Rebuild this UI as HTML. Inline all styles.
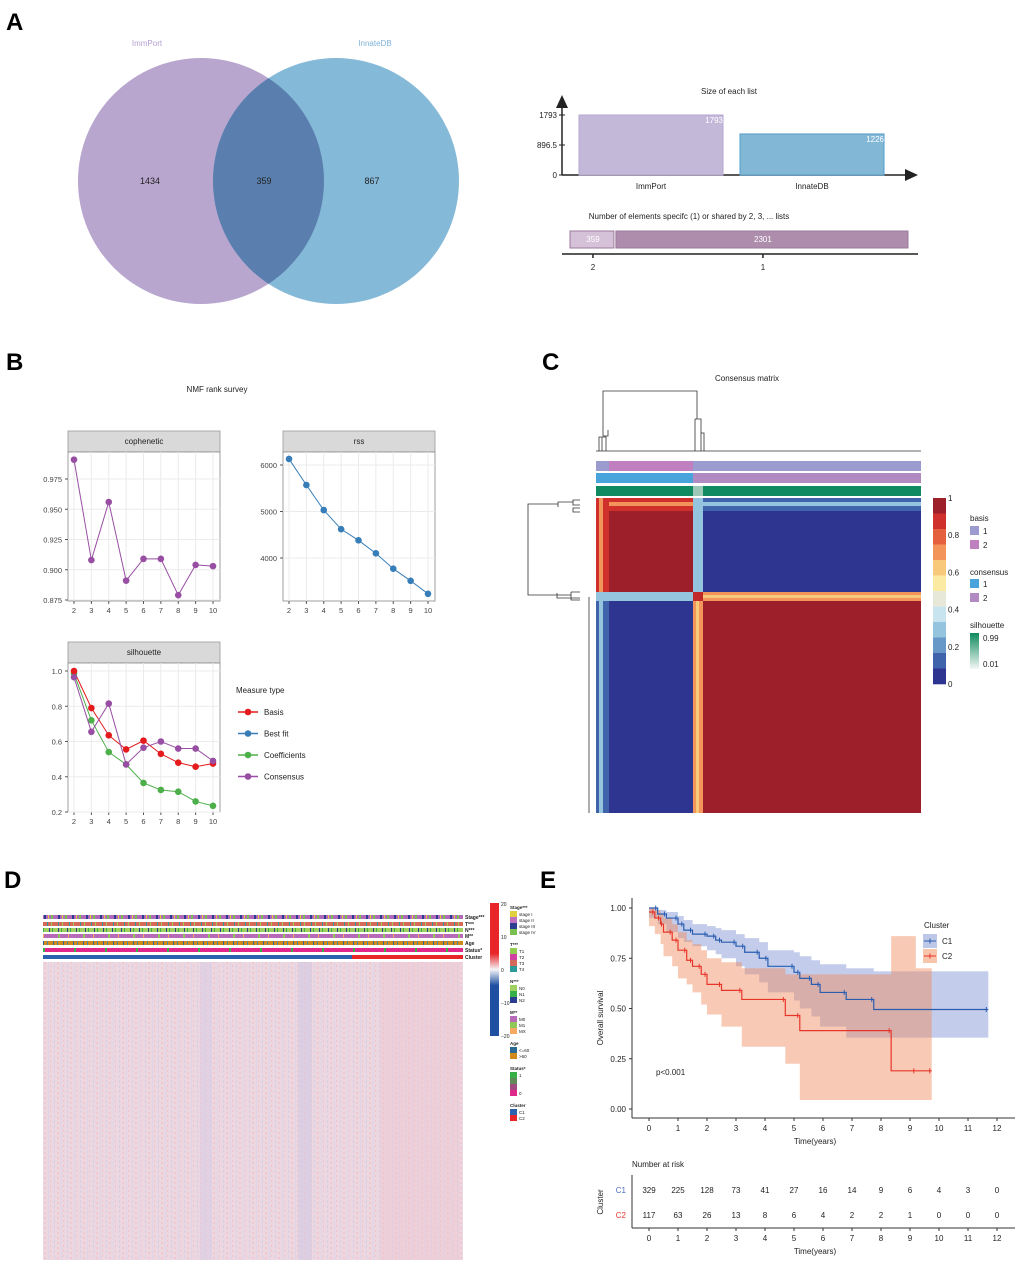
<!DOCTYPE html>
<html><head><meta charset="utf-8"><style>
body{margin:0;background:#fff}
svg{display:block;font-family:"Liberation Sans",Arial,sans-serif}
</style></head><body>
<svg id="fig" width="1020" height="1265" viewBox="0 0 1020 1265" xmlns="http://www.w3.org/2000/svg">
<defs>
<linearGradient id="hmcol" x1="0" y1="0" x2="0" y2="1"><stop offset="0" stop-color="#e8262a"/><stop offset="0.38" stop-color="#e8262a"/><stop offset="0.5" stop-color="#f4f4f8"/><stop offset="0.62" stop-color="#1e4fa0"/><stop offset="1" stop-color="#1e4fa0"/></linearGradient>
<linearGradient id="silg" x1="0" y1="0" x2="0" y2="1"><stop offset="0" stop-color="#0d8a5c"/><stop offset="1" stop-color="#f4f8f6"/></linearGradient>
<pattern id="hmtex" width="13" height="5" patternUnits="userSpaceOnUse"><rect width="13" height="5" fill="#ecd6e0"/><rect x="2" y="0" width="1" height="3" fill="#d6d0e6"/><rect x="5" y="2" width="2" height="2" fill="#f0c8d0"/><rect x="9" y="1" width="1" height="4" fill="#dcd4e8"/><rect x="11" y="0" width="1" height="2" fill="#f0c4cc"/></pattern>
<pattern id="anntex" width="14" height="5" patternUnits="userSpaceOnUse"><rect width="14" height="5" fill="#b06ab8"/><rect x="2" width="2" height="5" fill="#2c3c90"/><rect x="6" width="1" height="5" fill="#e0d040"/><rect x="9" width="2" height="5" fill="#78c050"/></pattern>
<pattern id="anntexT" width="11" height="5" patternUnits="userSpaceOnUse"><rect width="11" height="5" fill="#d66a5a"/><rect x="3" width="1" height="5" fill="#2a9a9a"/><rect x="7" width="1" height="5" fill="#9ccc58"/></pattern>
<pattern id="anntexN" width="9" height="5" patternUnits="userSpaceOnUse"><rect width="9" height="5" fill="#a0d060"/><rect x="4" width="1" height="5" fill="#2c3c90"/><rect x="7" width="1" height="5" fill="#38b048"/></pattern>
<pattern id="anntexM" width="25" height="5" patternUnits="userSpaceOnUse"><rect width="25" height="5" fill="#b66ab8"/><rect x="8" width="2" height="5" fill="#90c858"/><rect x="18" width="1" height="5" fill="#f4a860"/></pattern>
<pattern id="anntexA" width="10" height="5" patternUnits="userSpaceOnUse"><rect width="10" height="5" fill="#d08a1c"/><rect x="3" width="1" height="5" fill="#2a6a94"/><rect x="7" width="1" height="5" fill="#4c8a9a"/></pattern>
<pattern id="anntexS" width="31" height="5" patternUnits="userSpaceOnUse"><rect width="31" height="5" fill="#e0288a"/><rect x="12" width="2" height="5" fill="#38b048"/></pattern>
</defs>

<g font-weight="bold" font-size="24" fill="#000">
<text x="6" y="30">A</text>
<text x="6" y="370">B</text>
<text x="542" y="370">C</text>
<text x="4" y="888">D</text>
<text x="540" y="888">E</text>
</g>

<g>
<circle cx="201" cy="181" r="123" fill="#b9a6cf"/>
<circle cx="336" cy="181" r="123" fill="#6aa9cf" fill-opacity="0.82"/>
<clipPath id="lc"><circle cx="201" cy="181" r="123"/></clipPath>
<circle cx="336" cy="181" r="123" fill="#5a7fae" clip-path="url(#lc)"/>
<text x="147" y="46" font-size="8" fill="#b4a0d4" text-anchor="middle">ImmPort</text>
<text x="375" y="46" font-size="8" fill="#7fb3d8" text-anchor="middle">InnateDB</text>
<g font-size="9" fill="#222" text-anchor="middle">
<text x="150" y="184">1434</text>
<text x="264" y="184">359</text>
<text x="372" y="184">867</text>
</g>
</g>

<g id="upset" font-size="8" fill="#222"></g>
<g id="nmf"></g>
<g id="cons"></g>

<g>
<rect x="43" y="915" width="420" height="4" fill="url(#anntex)"/>
<rect x="43" y="922" width="420" height="4" fill="url(#anntexT)"/>
<rect x="43" y="928" width="420" height="4" fill="url(#anntexN)"/>
<rect x="43" y="934" width="420" height="4" fill="url(#anntexM)"/>
<rect x="43" y="941" width="420" height="4" fill="url(#anntexA)"/>
<rect x="43" y="948" width="420" height="4" fill="url(#anntexS)"/>
<rect x="43" y="955" width="309" height="4" fill="#2a62b0"/>
<rect x="352" y="955" width="111" height="4" fill="#e8262a"/>
<rect x="43" y="962" width="420" height="298" fill="url(#hmtex)"/>
<rect x="200" y="962" width="12" height="298" fill="#d8cbe4" opacity="0.5"/>
<rect x="298" y="962" width="14" height="298" fill="#cfc6e4" opacity="0.5"/>
<rect x="380" y="962" width="80" height="298" fill="#f0c6d0" opacity="0.4"/>
<g font-size="5" font-weight="bold" fill="#222">
<text x="465" y="919">Stage***</text><text x="465" y="926">T***</text><text x="465" y="932">N***</text><text x="465" y="938">M**</text><text x="465" y="945">Age</text><text x="465" y="952">Status*</text><text x="465" y="959">Cluster</text>
</g>
<rect x="490" y="903" width="9" height="133" fill="url(#hmcol)"/>
<g font-size="5" fill="#222"><text x="501" y="906">20</text><text x="501" y="939">10</text><text x="501" y="972">0</text><text x="501" y="1005">−10</text><text x="501" y="1038">−20</text></g>
<g id="dleg" font-size="4.5" fill="#222"></g>
</g>

<g id="km"></g>
</svg>
<script>
const NS='http://www.w3.org/2000/svg';
function mk(parent,tag,attrs,text){const e=document.createElementNS(NS,tag);for(const k in attrs)e.setAttribute(k,attrs[k]);if(text!==undefined)e.textContent=text;parent.appendChild(e);return e;}

const listNames=['ImmPort','InnateDB'];
const listSizes=[1793,1226];
const listColors=['#c4b8d9','#83b7d6'];
const sharedLabels=['359','2301'];
const sharedValues=[359,2301];
const sharedTickLabels=['2','1'];
(function(){
const g=document.getElementById('upset');
const y0=175,ymax=115,maxV=1793;const ys=v=>y0-(y0-ymax)*v/maxV;
mk(g,'text',{x:729,y:94,'text-anchor':'middle'},'Size of each list');
mk(g,'line',{x1:562,y1:y0,x2:562,y2:100,stroke:'#222','stroke-width':1.5});
mk(g,'path',{d:'M556,108 L562,95 L568,108 Z',fill:'#222'});
mk(g,'line',{x1:562,y1:y0,x2:908,y2:y0,stroke:'#222','stroke-width':1.5});
mk(g,'path',{d:'M905,169 L918,175 L905,181 Z',fill:'#222'});
[[maxV,'1793'],[maxV/2,'896.5'],[0,'0']].forEach(t=>{mk(g,'text',{x:557,y:ys(t[0])+3,'text-anchor':'end'},t[1]);mk(g,'line',{x1:559,x2:565,y1:ys(t[0]),y2:ys(t[0]),stroke:'#222'});});
listSizes.forEach((v,i)=>{const x=579+i*161;
 const r=mk(g,'rect',{x:x,y:ys(v),width:144,height:y0-ys(v),fill:listColors[i],stroke:i?'#4f9ccc':'#b5a6d0'});
 
 
 mk(g,'text',{x:x+144,y:ys(v)+8,'text-anchor':'end',fill:'#fff'},String(v));
 mk(g,'text',{x:x+72,y:189,'text-anchor':'middle'},listNames[i]);});
mk(g,'text',{x:689,y:219,'text-anchor':'middle'},'Number of elements specifc (1) or shared by 2, 3, ... lists');
const tot=sharedValues.reduce((a,b)=>a+b,0);let x=570;const W=340;
sharedValues.forEach((v,i)=>{const w=W*v/tot;
 const r=mk(g,'rect',{x:x,y:231,width:w-2,height:17,fill:i?'#ad8cac':'#d6c2d8',stroke:'#9b7a9b'});
 
 
 mk(g,'text',{x:x+w/2,y:242,'text-anchor':'middle',fill:'#fff'},sharedLabels[i]);
 mk(g,'line',{x1:x+w/2,x2:x+w/2,y1:254,y2:258,stroke:'#222','stroke-width':1.5});
 mk(g,'text',{x:x+w/2,y:270,'text-anchor':'middle'},sharedTickLabels[i]);x+=w;});
mk(g,'line',{x1:562,x2:918,y1:254,y2:254,stroke:'#222','stroke-width':1.5});
})();

const ranks=[2,3,4,5,6,7,8,9,10];
const cophenetic=[0.991,0.908,0.956,0.891,0.909,0.909,0.879,0.904,0.903];
const rss=[6130,5570,5030,4620,4380,4100,3770,3510,3230];
const silBasis=[1.0,0.79,0.635,0.555,0.605,0.53,0.48,0.457,0.475];
const silCoef=[0.985,0.72,0.54,0.47,0.365,0.325,0.315,0.26,0.235];
const silCons=[0.965,0.655,0.815,0.47,0.565,0.6,0.56,0.56,0.49];
const cophTicks=[0.875,0.9,0.925,0.95,0.975];
const rssTicks=[4000,5000,6000];
const silTicks=[0.2,0.4,0.6,0.8,1.0];
(function(){
const g=document.getElementById('nmf');
mk(g,'text',{x:217,y:392,'text-anchor':'middle','font-size':8,fill:'#222'},'NMF rank survey');
function panel(px,py,title,yv,yt,fmt,vmap,series){
 const W=152,H=149;const x=r=>px+6+(r-2)*(W-13)/8;
 mk(g,'rect',{x:px,y:py-21,width:W,height:21,fill:'#d9d9d9',stroke:'#999','stroke-width':0.8});
 mk(g,'text',{x:px+W/2,y:py-8,'text-anchor':'middle','font-size':8,fill:'#222'},title);
 mk(g,'rect',{x:px,y:py,width:W,height:H,fill:'#fff',stroke:'#888','stroke-width':0.8});
 ranks.forEach(r=>{mk(g,'line',{x1:x(r),x2:x(r),y1:py,y2:py+H,stroke:'#ebebeb'});mk(g,'line',{x1:x(r),x2:x(r),y1:py+H,y2:py+H+3,stroke:'#555'});
  mk(g,'text',{x:x(r),y:py+H+12,'text-anchor':'middle','font-size':7.5,fill:'#444'},String(r));});
 yt.forEach(t=>{const yy=vmap(t);mk(g,'line',{x1:px,x2:px+W,y1:yy,y2:yy,stroke:'#ebebeb'});mk(g,'line',{x1:px-3,x2:px,y1:yy,y2:yy,stroke:'#555'});
  mk(g,'text',{x:px-6,y:yy+3,'text-anchor':'end','font-size':7.5,fill:'#444'},fmt(t));});
 series.forEach(s=>{mk(g,'polyline',{points:s.v.map((v,i)=>x(ranks[i])+','+vmap(v)).join(' '),fill:'none',stroke:s.c,'stroke-width':1});
  s.v.forEach((v,i)=>{const c=mk(g,'circle',{cx:x(ranks[i]),cy:vmap(v),r:3.3,fill:s.c});});});
}
panel(68,452,'cophenetic',cophenetic,cophTicks,t=>t.toFixed(3),v=>600-(v-0.875)/0.1*121,[{v:cophenetic,c:'#984ea3',n:'cophenetic'}]);
panel(283,452,'rss',rss,rssTicks,t=>String(t),v=>558-(v-4000)/2000*93,[{v:rss,c:'#377eb8',n:'rss'}]);
panel(68,663,'silhouette',silBasis,silTicks,t=>t.toFixed(1),v=>812-(v-0.2)/0.8*141,[{v:silCoef,c:'#4daf4a',n:'coefficients'},{v:silBasis,c:'#e41a1c',n:'basis'},{v:silCons,c:'#984ea3',n:'consensus'}]);
mk(g,'text',{x:236,y:693,'font-size':8,fill:'#222'},'Measure type');
[['Basis','#e41a1c'],['Best fit','#377eb8'],['Coefficients','#4daf4a'],['Consensus','#984ea3']].forEach((e,i)=>{const y=712+i*21.5;
 mk(g,'line',{x1:238,x2:258,y1:y,y2:y,stroke:e[1],'stroke-width':1.5});mk(g,'circle',{cx:248,cy:y,r:3.3,fill:e[1]});
 const t=mk(g,'text',{x:264,y:y+3,'font-size':8,fill:'#222'},e[0]);});
})();

const consBins=['#9c1f2a','#d0302b','#e5603f','#f3955a','#f8c97a','#fbeaa2','#e8e8d8','#c8e4ef','#95c5de','#6898c7','#3f64ab','#2e3590'];
const consTicks=['1','0.8','0.6','0.4','0.2','0'];
(function(){
const g=document.getElementById('cons');
const R='#9c1f2a',B='#2e3590',LB='#95c5de',OR='#f3955a',MB='#3f64ab';
mk(g,'text',{x:747,y:381,'text-anchor':'middle','font-size':8,fill:'#222'},'Consensus matrix');
const d='M602,451 V437 M602,437 H599 V451 M602,437 H606 V451 M603,436 H608 V430 M603,436 V421 M603,421 V391 H697 V419 M695,419 H701 V451 M695,419 V451 M701,433 H704 V451 M596,451 H921';
mk(g,'path',{d:d,fill:'none',stroke:'#333','stroke-width':0.8});
mk(g,'path',{d:'M580,500 H573 V505 H580 M573,502 H558 V507 M580,508 H573 V512 H580 M558,504 H528 V595 H557 M557,593 V598 H580 M557,595 H571 M571,592 H580 M571,592 V600 H580 M589,597 V813',fill:'none',stroke:'#333','stroke-width':0.8});
mk(g,'rect',{x:596,y:461,width:325,height:10,fill:'#9b9bd0'});mk(g,'rect',{x:609,y:461,width:84,height:10,fill:'#c080c0'});
mk(g,'rect',{x:596,y:473,width:97,height:10,fill:'#4aa4dc'});mk(g,'rect',{x:693,y:473,width:228,height:10,fill:'#b08ac0'});
mk(g,'rect',{x:596,y:486,width:325,height:10,fill:'#108a60'});mk(g,'rect',{x:693,y:486,width:10,height:10,fill:'#9cc8b8'});
mk(g,'rect',{x:596,y:498,width:97,height:94,fill:R});
mk(g,'rect',{x:693,y:498,width:228,height:94,fill:B});
mk(g,'rect',{x:596,y:592,width:97,height:221,fill:B});
mk(g,'rect',{x:693,y:592,width:228,height:221,fill:R});
mk(g,'rect',{x:596,y:498,width:325,height:13,fill:MB});mk(g,'rect',{x:596,y:502,width:325,height:4,fill:LB});
mk(g,'rect',{x:596,y:498,width:97,height:13,fill:'#d0302b'});mk(g,'rect',{x:596,y:502,width:97,height:4,fill:OR});
mk(g,'rect',{x:596,y:498,width:13,height:315,fill:MB});mk(g,'rect',{x:599,y:498,width:4,height:315,fill:LB});
mk(g,'rect',{x:596,y:498,width:13,height:94,fill:'#d0302b'});mk(g,'rect',{x:599,y:498,width:4,height:94,fill:OR});
mk(g,'rect',{x:596,y:592,width:325,height:9,fill:LB});mk(g,'rect',{x:693,y:592,width:228,height:9,fill:OR});mk(g,'rect',{x:693,y:595,width:228,height:3,fill:'#f8c97a'});
mk(g,'rect',{x:693,y:498,width:10,height:315,fill:LB});mk(g,'rect',{x:693,y:592,width:10,height:221,fill:OR});mk(g,'rect',{x:696,y:592,width:3,height:221,fill:'#f8c97a'});
mk(g,'rect',{x:693,y:592,width:10,height:9,fill:'#c0282a'});
const h=186/consBins.length;
consBins.forEach((c,i)=>{const r=mk(g,'rect',{x:933,y:498+i*h,width:13,height:h+0.3,fill:c});});
consTicks.forEach((t,i)=>mk(g,'text',{x:948,y:501+i*37.2,'font-size':8,fill:'#222'},t));
const L=[['basis',521],['consensus',575],['silhouette',628]];
L.forEach(l=>mk(g,'text',{x:970,y:l[1],'font-size':8,fill:'#222'},l[0]));
[[526,'#9b9bd0','1'],[540,'#c080c0','2'],[579,'#4aa4dc','1'],[593,'#b08ac0','2']].forEach(s=>{mk(g,'rect',{x:970,y:s[0],width:9,height:9,fill:s[1]});mk(g,'text',{x:983,y:s[0]+8,'font-size':8,fill:'#222'},s[2]);});
mk(g,'rect',{x:970,y:633,width:9,height:36,fill:'url(#silg)'});
mk(g,'text',{x:983,y:641,'font-size':8,fill:'#222'},'0.99');mk(g,'text',{x:983,y:667,'font-size':8,fill:'#222'},'0.01');
})();

(function(){
const g=document.getElementById('dleg');
const groups=[['Stage***',['#e0d040','#c070c0','#2c3c90','#78c050'],['stage I','stage II','stage III','stage IV']],
['T***',['#90cc50','#d040a0','#d66a5a','#2a9a9a'],['T1','T2','T3','T4']],
['N***',['#a0d060','#38b048','#2c3c90'],['N0','N1','N2']],
['M**',['#b66ab8','#90c858','#f4a860'],['M0','M1','MX']],
['Age',['#2a6a94','#d08a1c'],['<=60','>60']],
['Status*',['#38b048','#608a58','#a04a80','#e0288a'],['1','','','0']],
['Cluster',['#2a62b0','#e8262a'],['C1','C2']]];
let y=906;
groups.forEach(gr=>{mk(g,'text',{x:510,y:y+3,'font-weight':'bold'},gr[0]);y+=5;
 gr[1].forEach((c,i)=>{mk(g,'rect',{x:510,y:y,width:7,height:6,fill:c});mk(g,'text',{x:519,y:y+5},gr[2][i]);y+=6;});y+=8;});
})();

const c1Time=[0,0.3,0.6,1,1.2,1.5,2,2.3,2.5,3,3.3,3.8,4.1,5,5.2,5.6,5.9,6.8,7.75,11.7];
const c1Surv=[1,0.97,0.95,0.92,0.89,0.87,0.86,0.84,0.83,0.81,0.78,0.75,0.71,0.68,0.65,0.62,0.58,0.545,0.495,0.495];
const c1Up=[1,0.99,0.98,0.96,0.94,0.92,0.91,0.90,0.89,0.87,0.85,0.83,0.79,0.78,0.76,0.74,0.72,0.70,0.685,0.685];
const c1Lo=[1,0.95,0.92,0.88,0.85,0.83,0.81,0.79,0.77,0.75,0.71,0.67,0.63,0.58,0.54,0.50,0.46,0.41,0.355,0.355];
const c2Time=[0,0.2,0.4,0.5,0.8,1,1.3,1.5,1.8,2,2.5,3.2,4.7,5.2,8.35,9.2,9.75];
const c2Surv=[0.98,0.95,0.92,0.88,0.84,0.79,0.74,0.71,0.67,0.62,0.59,0.545,0.465,0.39,0.19,0.19,0.19];
const c2Up=[1,0.99,0.97,0.95,0.92,0.88,0.84,0.82,0.79,0.75,0.73,0.70,0.67,0.67,0.86,0.70,0.70];
const c2Lo=[0.96,0.91,0.87,0.82,0.76,0.71,0.65,0.62,0.58,0.52,0.47,0.41,0.31,0.225,0.045,0.045,0.045];
const kmTicksX=[0,1,2,3,4,5,6,7,8,9,10,11,12];
const kmTicksY=[0,0.25,0.5,0.75,1];
const riskC1=[329,225,128,73,41,27,16,14,9,6,4,3,0];
const riskC2=[117,63,26,13,8,6,4,2,2,1,0,0,0];
(function(){
const g=document.getElementById('km');
const X=t=>649+t*29,Y=s=>1109-s*201;
function step(T,S){let d='M'+X(T[0])+','+Y(S[0]);for(let i=1;i<T.length;i++){d+=' H'+X(T[i])+' V'+Y(S[i]);}return d;}
function band(T,U,Lo){let d='M'+X(T[0])+','+Y(U[0]);for(let i=1;i<T.length;i++)d+=' H'+X(T[i])+' V'+Y(U[i]);
 for(let i=T.length-1;i>0;i--)d+=' V'+Y(Lo[i])+' H'+X(T[i-1]);d+=' V'+Y(Lo[0])+' Z';return d;}
const b1=mk(g,'path',{d:band(c1Time,c1Up,c1Lo),fill:'#7b8fd0','fill-opacity':0.45});


const b2=mk(g,'path',{d:band(c2Time,c2Up,c2Lo),fill:'#f08a5a','fill-opacity':0.45});


const l1=mk(g,'path',{d:step(c1Time,c1Surv),fill:'none',stroke:'#2a5db0','stroke-width':1.2});
const l2=mk(g,'path',{d:step(c2Time,c2Surv),fill:'none',stroke:'#e8352a','stroke-width':1.2});
c1Time.forEach((t,i)=>{if(i>0)mk(g,'line',{x1:X(t)-2,x2:X(t)-2,y1:Y(c1Surv[i-1])-2.5,y2:Y(c1Surv[i-1])+2.5,stroke:'#2a5db0'});});
c2Time.forEach((t,i)=>{if(i>0)mk(g,'line',{x1:X(t)-2,x2:X(t)-2,y1:Y(c2Surv[i-1])-2.5,y2:Y(c2Surv[i-1])+2.5,stroke:'#e8352a'});});
mk(g,'line',{x1:632,x2:632,y1:898,y2:1118,stroke:'#333'});mk(g,'line',{x1:632,x2:1015,y1:1118,y2:1118,stroke:'#333'});
kmTicksY.forEach(v=>{mk(g,'line',{x1:629,x2:632,y1:Y(v),y2:Y(v),stroke:'#333'});mk(g,'text',{x:626,y:Y(v)+3,'text-anchor':'end','font-size':8,fill:'#222'},v.toFixed(2));});
kmTicksX.forEach(t=>{mk(g,'line',{x1:X(t),x2:X(t),y1:1118,y2:1121,stroke:'#333'});mk(g,'text',{x:X(t),y:1131,'text-anchor':'middle','font-size':8,fill:'#222'},String(t));});
mk(g,'text',{x:815,y:1144,'text-anchor':'middle','font-size':8,fill:'#222'},'Time(years)');
mk(g,'text',{x:603,y:1018,'text-anchor':'middle','font-size':8,fill:'#222',transform:'rotate(-90 603 1018)'},'Overall survival');
mk(g,'text',{x:656,y:1075,'font-size':8,fill:'#222'},'p<0.001');
mk(g,'text',{x:924,y:928,'font-size':8,fill:'#222'},'Cluster');
[['C1','#7b8fd0','#2a5db0',941],['C2','#f08a5a','#e8352a',956]].forEach(e=>{mk(g,'rect',{x:923,y:e[3]-7,width:14,height:14,fill:e[1],'fill-opacity':0.5});
 mk(g,'line',{x1:924,x2:936,y1:e[3],y2:e[3],stroke:e[2]});mk(g,'line',{x1:930,x2:930,y1:e[3]-2.5,y2:e[3]+2.5,stroke:e[2]});
 const t=mk(g,'text',{x:942,y:e[3]+3,'font-size':8,fill:'#222'},e[0]);});
mk(g,'text',{x:632,y:1167,'font-size':8,fill:'#222'},'Number at risk');
mk(g,'line',{x1:632,x2:632,y1:1175,y2:1228,stroke:'#333'});mk(g,'line',{x1:632,x2:1015,y1:1228,y2:1228,stroke:'#333'});
mk(g,'text',{x:626,y:1193,'text-anchor':'end','font-size':8,fill:'#4a6ec0'},'C1');
mk(g,'text',{x:626,y:1218,'text-anchor':'end','font-size':8,fill:'#e8352a'},'C2');
mk(g,'text',{x:603,y:1202,'text-anchor':'middle','font-size':8,fill:'#222',transform:'rotate(-90 603 1202)'},'Cluster');
kmTicksX.forEach((t,i)=>{mk(g,'text',{x:X(t),y:1193,'text-anchor':'middle','font-size':8,fill:'#222'},String(riskC1[i]));
 mk(g,'text',{x:X(t),y:1218,'text-anchor':'middle','font-size':8,fill:'#222'},String(riskC2[i]));
 mk(g,'line',{x1:X(t),x2:X(t),y1:1228,y2:1231,stroke:'#333'});mk(g,'text',{x:X(t),y:1241,'text-anchor':'middle','font-size':8,fill:'#222'},String(t));});
mk(g,'text',{x:815,y:1254,'text-anchor':'middle','font-size':8,fill:'#222'},'Time(years)');
})();
</script>
</body></html>
